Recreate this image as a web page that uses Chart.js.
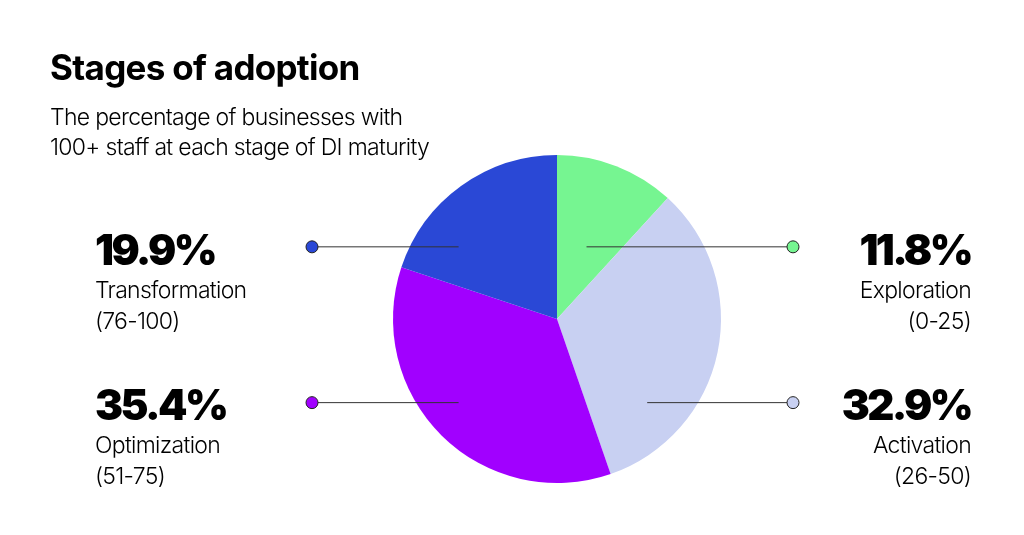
<!DOCTYPE html>
<html>
<head>
<meta charset="utf-8">
<script src="https://cdn.jsdelivr.net/npm/chart.js@4.4.0/dist/chart.umd.min.js"></script>
<style>
  html, body { margin: 0; padding: 0; background: #fff; }
  #wrap { width: 1024px; height: 535px; position: relative; }
</style>
</head>
<body>
<div id="wrap"><canvas id="myChart" width="1024" height="535"></canvas></div>
<script>
// data, clockwise from 12 o'clock
const stages = ["Exploration", "Activation", "Optimization", "Transformation"];
const ranges = ["(0-25)", "(26-50)", "(51-75)", "(76-100)"];
const shares = [11.8, 32.9, 35.4, 19.9];
const colores = ["#76F591", "#C8D0F2", "#A100FF", "#2A48D6"];

const titulo = "Stages of adoption";
const subtitulo = ["The percentage of businesses with", "100+ staff at each stage of DI maturity"];

// where each callout sits: side, row, and the inner end of the leader line (fraction of radius)
const callouts = [
  { side: "right", row: 0, fx: 0.18, fy: -0.44 },
  { side: "right", row: 1, fx: 0.55, fy: 0.51 },
  { side: "left", row: 1, fx: -0.6, fy: 0.51 },
  { side: "left", row: 0, fx: -0.6, fy: -0.44 },
];

const calloutPlugin = {
  id: "callouts",
  afterDraw(chart) {
    const ctx = chart.ctx;
    const arc = chart.getDatasetMeta(0).data[0];
    const cx = arc.x, cy = arc.y, r = arc.outerRadius;

    ctx.save();
    // titulo
    ctx.fillStyle = "#000";
    ctx.textAlign = "left";
    ctx.textBaseline = "alphabetic";
    ctx.font = "bold 35px Inter";
    ctx.letterSpacing = "-0.7px";
    ctx.fillText(titulo, 50, 80);
    ctx.font = "300 23px Inter";
    ctx.letterSpacing = "-0.7px";
    subtitulo.forEach((t, i) => ctx.fillText(t, 50, 125 + i * 30));

    callouts.forEach((c, i) => {
      const y = cy + c.fy * r;
      const x1 = cx + c.fx * r;
      const dotX = c.side === "left" ? 312 : 793;
      ctx.strokeStyle = "#333";
      ctx.lineWidth = 1;
      ctx.beginPath();
      ctx.moveTo(x1, y);
      ctx.lineTo(dotX, y);
      ctx.stroke();
      ctx.beginPath();
      ctx.arc(dotX, y, 6, 0, Math.PI * 2);
      ctx.fillStyle = colores[i];
      ctx.fill();
      ctx.strokeStyle = "#222";
      ctx.stroke();

      const base = 265 + c.row * 155;
      const tx = c.side === "left" ? 95 : 971;
      ctx.textAlign = c.side === "left" ? "left" : "right";
      ctx.fillStyle = "#000";
      ctx.font = "900 42px Inter";
      ctx.letterSpacing = "-2.6px";
      ctx.fillText(shares[i].toFixed(1) + "%", tx, base);
      ctx.font = "300 23px Inter";
      ctx.letterSpacing = "-0.7px";
      ctx.fillText(stages[i], tx, base + 33);
      ctx.fillText(ranges[i], tx, base + 64);
    });
    ctx.restore();
  },
};

var myChart = new Chart(document.getElementById("myChart").getContext("2d"), {
  type: "pie",
  data: {
    labels: stages,
    datasets: [
      {
        data: shares,
        backgroundColor: colores,
        borderWidth: 0,
      },
    ],
  },
  options: {
    responsive: false,
    animation: false,
    layout: { padding: { left: 393, right: 303, top: 155, bottom: 52 } },
    plugins: {
      legend: { display: false },
      tooltip: { enabled: false },
    },
  },
  plugins: [calloutPlugin],
});
</script>
</body>
</html>
